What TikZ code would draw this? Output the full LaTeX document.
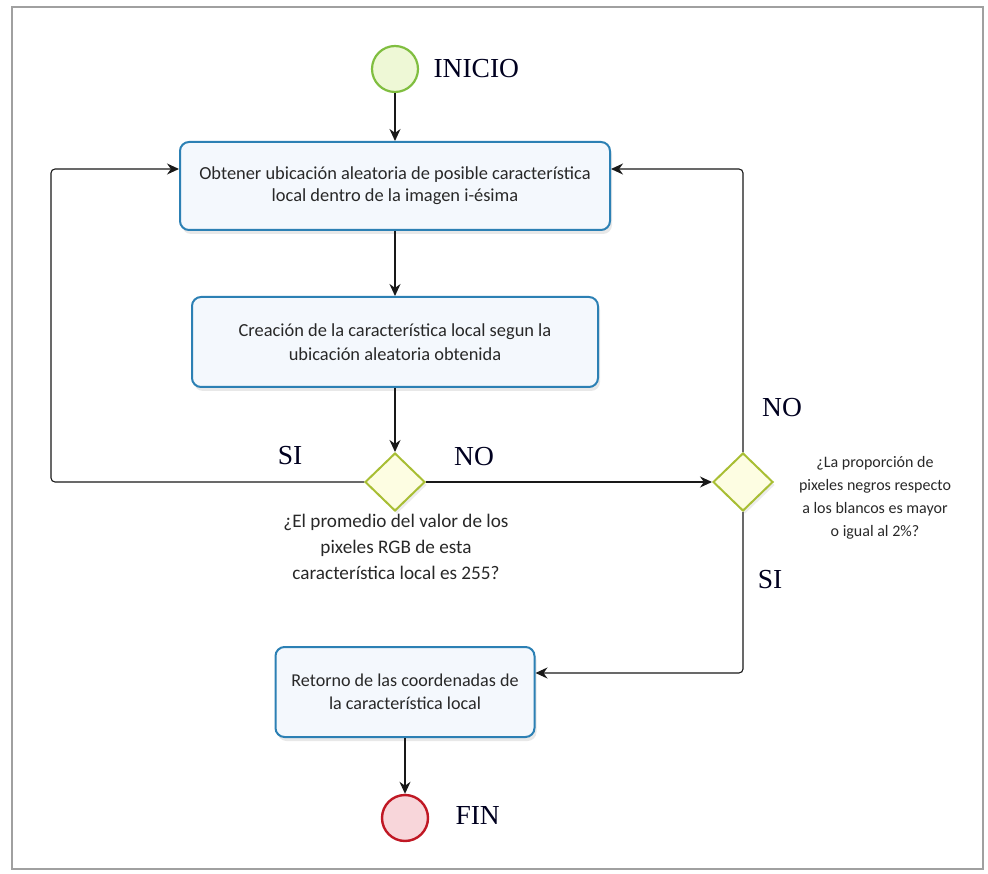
\documentclass[tikz,border=0pt]{standalone}
\usepackage{fontspec}
\setmainfont{Liberation Serif}
\newfontfamily\carl{Carlito}
\usetikzlibrary{shapes.geometric,arrows.meta,shadows}

\definecolor{boxline}{RGB}{44,128,180}
\definecolor{boxfill}{RGB}{244,248,253}
\definecolor{decline}{RGB}{168,190,52}
\definecolor{decfill}{RGB}{253,253,226}
\definecolor{startline}{RGB}{128,190,64}
\definecolor{startfill}{RGB}{238,248,214}
\definecolor{endline}{RGB}{192,24,36}
\definecolor{endfill}{RGB}{248,214,218}
\definecolor{txt}{RGB}{40,40,40}
\definecolor{frame}{RGB}{160,160,160}

\tikzset{
  process/.style={draw=boxline, line width=2pt, fill=boxfill, rounded corners=9pt,
    align=center, text=txt, inner sep=0pt,
    drop shadow={opacity=0.18, shadow xshift=2pt, shadow yshift=-4pt}},
  decision/.style={diamond, draw=decline, line width=2pt, fill=decfill, inner sep=0pt,
    minimum width=60pt, minimum height=58pt,
    drop shadow={opacity=0.15, shadow xshift=2pt, shadow yshift=-3pt}},
  startev/.style={circle, draw=startline, line width=2.2pt, fill=startfill,
    minimum size=46pt, inner sep=0pt},
  endev/.style={circle, draw=endline, line width=2.4pt, fill=endfill,
    minimum size=46pt, inner sep=0pt},
  tag/.style={font=\fontsize{27.5}{30}\selectfont, text=black!88!blue},
  note/.style={align=center, text=txt},
  flow/.style={draw=black!90, line width=1.1pt, rounded corners=4pt,
    -{Stealth[length=12pt,width=11pt]}},
}

\begin{document}
\begin{tikzpicture}[x=1pt,y=-1pt]
  \useasboundingbox (0,0) rectangle (988,874);
  \draw[frame, line width=1.3pt] (12,7) rectangle (983,869);

  % events
  \node[startev] (start) at (395,69) {};
  \node[tag, anchor=west] (inicio) at (430,69) {INICIO};
  \node[endev] (fin) at (405,818) {};
  \node[tag, anchor=west] (finlbl) at (452,815) {FIN};

  % activities
  \node[process, minimum width=430pt, minimum height=88pt,
        font=\carl\fontsize{18.4}{22}\selectfont] (obtener) at (395,186)
    {Obtener ubicación aleatoria de posible característica\\local dentro de la imagen i-ésima};
  \node[process, minimum width=406pt, minimum height=90pt,
        font=\carl\fontsize{18.4}{24}\selectfont] (crear) at (395,342)
    {Creación de la característica local segun la\\ubicación aleatoria obtenida};
  \node[process, minimum width=259pt, minimum height=90pt,
        font=\carl\fontsize{18.1}{23}\selectfont] (retorno) at (405,692)
    {Retorno de las coordenadas de\\la característica local};

  % gateways
  \node[decision] (prom) at (395,482) {};
  \node[decision] (prop) at (743,482) {};

  \node[note, font=\carl\fontsize{19.2}{26}\selectfont] (promq) at (396,547)
    {¿El promedio del valor de los\\pixeles RGB de esta\\característica local es 255?};
  \node[note, font=\carl\fontsize{16}{23}\selectfont] (propq) at (875,498)
    {¿La proporción de\\pixeles negros respecto\\a los blancos es mayor\\o igual al 2\%?};

  % routing points
  \coordinate (lt) at (51,169);
  \coordinate (rt) at (743,169);
  \coordinate (rb) at (743,673);

  % sequence flows
  \draw[flow] (start) -- (obtener);
  \draw[flow] (obtener) -- (crear);
  \draw[flow] (crear) -- (prom);
  \draw[flow] (prom.west) -- (prom.west -| lt) -- (lt) -- (lt -| obtener.west);
  \draw[flow] (prom.east) -- (prop.west);
  \draw[flow] (prop.north) -- (rt) -- (rt -| obtener.east);
  \draw[flow] (prop.south) -- (rb) -- (rb -| retorno.east);
  \draw[flow] (retorno.south -| fin) -- (fin);

  % flow labels
  \node[tag] (si1) at (290,456) {SI};
  \node[tag] (no1) at (474,457) {NO};
  \node[tag] (no2) at (782,408) {NO};
  \node[tag] (si2) at (770,580) {SI};
\end{tikzpicture}
\end{document}
